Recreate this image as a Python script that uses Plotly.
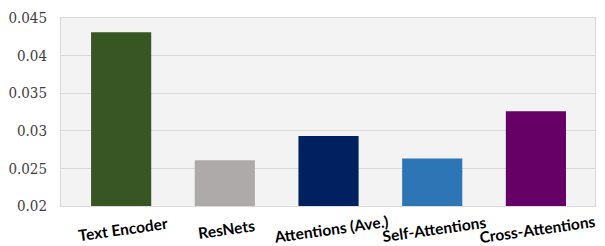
import plotly.graph_objects as go

categories = ["Text Encoder", "ResNets", "Attentions (Ave.)", "Self-Attentions", "Cross-Attentions"]
values = [0.0431, 0.0261, 0.0293, 0.0263, 0.0326]
colors = ["#375623", "#AEAAAA", "#002060", "#2E75B6", "#660066"]
y_ticks = [0.02, 0.025, 0.03, 0.035, 0.04, 0.045]
y_tick_labels = ["0.02", "0.025", "0.03", "0.035", "0.04", "0.045"]

fig = go.Figure(go.Bar(
    x=categories, y=values, marker=dict(color=colors, line=dict(width=0)),
    width=0.58,
))

for c in categories:
    fig.add_annotation(
        x=c, y=0, xref="x", yref="paper",
        text="<b>" + c + "</b>", showarrow=False,
        textangle=-8, xanchor="center", yanchor="middle", yshift=-23, xshift=2,
        font=dict(family="Lato", size=15.5, color="black"),
    )

# page body has an 8px margin, so the figure is sized to fit the 605x246 window
fig.update_layout(
    width=597, height=238,
    margin=dict(l=53, r=10, t=10, b=40),
    paper_bgcolor="white",
    plot_bgcolor="#f3f3f3",
    showlegend=False,
)
fig.update_xaxes(
    range=[-0.58, 4.57],
    showticklabels=False, automargin=False,
    showline=True, mirror=True, linecolor="#d9d9d9", linewidth=1,
    ticks="",
)
fig.update_yaxes(
    range=[0.02, 0.045], automargin=False,
    tickvals=y_ticks, ticktext=y_tick_labels,
    tickfont=dict(family="DejaVu Serif Condensed, DejaVu Serif", size=15, color="#404040"),
    showgrid=True, gridcolor="#d9d9d9", gridwidth=1,
    showline=True, mirror=True, linecolor="#d9d9d9", linewidth=1,
    ticks="", ticklabelstandoff=10,
    zeroline=False,
)

fig.write_html("out.html")
